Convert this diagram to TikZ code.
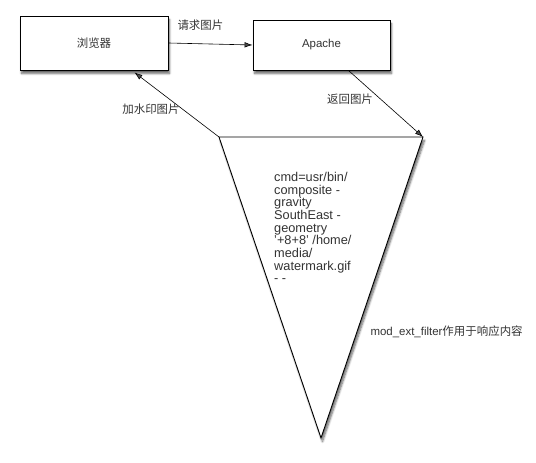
\documentclass[tikz,border=0pt]{standalone}
\usepackage{fontspec}
\setmainfont{Liberation Sans}
\newfontfamily\cjk{Noto Sans CJK SC}
\usetikzlibrary{positioning,arrows.meta,shadows.blur}

\begin{document}
\begin{tikzpicture}[
  x=1bp, y=-1bp,
  every node/.style={font=\fontsize{11.5}{13}\selectfont, text=black!80},
  box/.style={draw, line width=0.9bp, fill=white, blur shadow={shadow xshift=1.5bp, shadow yshift=-3.5bp, shadow blur steps=6, shadow opacity=60}},
  conn/.style={-{Latex[length=8bp,width=5.5bp]}, line width=0.6bp},
  lbl/.style={font=\cjk\fontsize{11.5}{13}\selectfont}
]
  \useasboundingbox (0,0) rectangle (536,463);

  % Boxes
  \node[box, minimum width=148bp, minimum height=54bp] at (94,43) (browser) {\cjk 浏览器};
  \node[box, minimum width=137bp, minimum height=50bp] at (321.5,45) (apache) {Apache};

  % Filter triangle
  \coordinate (tl) at (219,137);
  \coordinate (tr) at (423,137);
  \coordinate (tb) at (321,438);
  \draw[box] (tl) -- (tr) -- (tb) -- cycle;
  \node[anchor=north west, inner sep=0pt, align=left,
    font=\fontsize{12.8}{12.7}\selectfont] at (274,172) (cmd)
    {cmd=usr/bin/\\composite -\\gravity\\SouthEast -\\geometry\\'+8+8' /home/\\media/\\watermark.gif\\- -};

  % Connectors
  \draw[conn] (browser.east) -- (apache.west);
  \draw[conn] ([xshift=-42bp]apache.south east) -- (tr);
  \draw[conn] (tl) -- ([xshift=-34bp, yshift=-2bp]browser.south east);

  % Labels
  \node[lbl, anchor=west] at (174,25) (req) {请求图片};
  \node[lbl] at (350,99) (ret) {返回图片};
  \node[lbl] at (151,109) (wm) {加水印图片};
  \node[anchor=west] at (367,332) (filter) {mod\_ext\_filter{\cjk 作用于响应内容}};
\end{tikzpicture}
\end{document}
